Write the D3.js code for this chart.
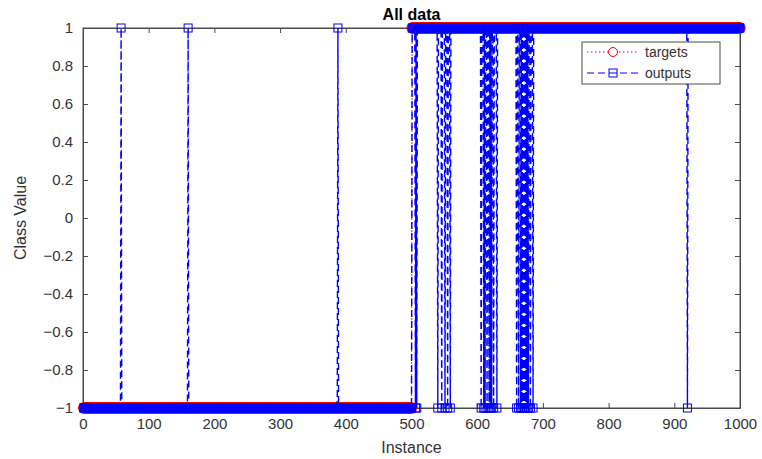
<!DOCTYPE html>
<html>
<head>
<meta charset="utf-8">
<script src="https://cdn.jsdelivr.net/npm/d3@7"></script>
<style>
  body { margin: 0; background: #fff; }
  svg text { font-family: "Liberation Sans", Arial, sans-serif; }
</style>
</head>
<body>
<div id="chart"></div>
<script>
// class of each target run (instance ranges)
const targetRuns = [
    { from: 1, to: 500, value: -1 },
    { from: 501, to: 1000, value: 1 }
];
// instances where the network output disagrees with the target
const misclassified = [58, 160, 388, 506, 508,
    540, 546, 551, 555, 559,
    606, 610, 612, 615, 618, 620, 622, 625, 630,
    660, 663, 666, 668, 670, 672, 674, 676, 678, 681, 685,
    920];
const xTicks = [0, 100, 200, 300, 400, 500, 600, 700, 800, 900, 1000];
const yTicks = [-1, -0.8, -0.6, -0.4, -0.2, 0, 0.2, 0.4, 0.6, 0.8, 1];
const legendItems = ["targets", "outputs"];

var targets = [];
targetRuns.forEach(r => {
    for (let i = r.from; i <= r.to; i++) targets.push({ i: i, v: r.value });
});
var wrong = new Set(misclassified);
var outputs = targets.map(d => ({ i: d.i, v: wrong.has(d.i) ? -d.v : d.v }));

var width = 762, height = 459;
var margin = { left: 83, right: 22, top: 28, bottom: 51 };

var svg = d3.select("#chart").append("svg")
    .attr("width", width)
    .attr("height", height);

var x = d3.scaleLinear().domain([0, 1000]).range([margin.left, width - margin.right]);
var y = d3.scaleLinear().domain([-1, 1]).range([height - margin.bottom, margin.top]);

var axisColor = "#333";
var tickColor = "#4a4a4a";

// box
svg.append("rect")
    .attr("x", x(0)).attr("y", y(1))
    .attr("width", x(1000) - x(0)).attr("height", y(-1) - y(1))
    .attr("fill", "none").attr("stroke", tickColor).attr("stroke-width", 1);

// axes with inward ticks
var xAxis = svg.append("g")
    .attr("transform", "translate(0," + y(-1) + ")")
    .call(d3.axisBottom(x).tickValues(xTicks).tickSizeInner(-5).tickSizeOuter(0).tickPadding(10).tickFormat(d3.format("d")));
var xAxisTop = svg.append("g")
    .attr("transform", "translate(0," + y(1) + ")")
    .call(d3.axisTop(x).tickValues(xTicks).tickSizeInner(-5).tickSizeOuter(0).tickFormat(""));
var yAxis = svg.append("g")
    .attr("transform", "translate(" + x(0) + ",0)")
    .call(d3.axisLeft(y).tickValues(yTicks).tickSizeInner(-5).tickSizeOuter(0).tickPadding(10).tickFormat(d3.format("")));
var yAxisRight = svg.append("g")
    .attr("transform", "translate(" + x(1000) + ",0)")
    .call(d3.axisRight(y).tickValues(yTicks).tickSizeInner(-5).tickSizeOuter(0).tickFormat(""));

[xAxis, xAxisTop, yAxis, yAxisRight].forEach(a => {
    a.selectAll("path").attr("stroke", tickColor);
    a.selectAll("line").attr("stroke", tickColor);
    a.selectAll("text").attr("fill", axisColor).style("font-size", "15px");
});

// targets: red dotted line with circles
var line = d3.line().x(d => x(d.i)).y(d => y(d.v));

svg.append("path")
    .datum(targets)
    .attr("d", line)
    .attr("fill", "none")
    .attr("stroke", "#ff0000")
    .attr("stroke-width", 1.2)
    .attr("stroke-dasharray", "1.5,2.5");

svg.append("g").selectAll("circle")
    .data(targets)
    .enter().append("circle")
    .attr("cx", d => x(d.i))
    .attr("cy", d => y(d.v))
    .attr("r", 5.2)
    .attr("fill", "none")
    .attr("stroke", "#ff0000")
    .attr("stroke-width", 1);

// outputs: blue dashed line with squares
svg.append("path")
    .datum(outputs)
    .attr("d", line)
    .attr("fill", "none")
    .attr("stroke", "#0000ff")
    .attr("stroke-width", 1.4)
    .attr("stroke-dasharray", "7,4");

var sq = 8;
svg.append("g").selectAll("rect")
    .data(outputs)
    .enter().append("rect")
    .attr("x", d => x(d.i) - sq / 2)
    .attr("y", d => y(d.v) - sq / 2)
    .attr("width", sq)
    .attr("height", sq)
    .attr("fill", "none")
    .attr("stroke", "#0000ff")
    .attr("stroke-width", 1);

// title and labels
svg.append("text")
    .attr("x", (x(0) + x(1000)) / 2)
    .attr("y", 20)
    .attr("text-anchor", "middle")
    .attr("fill", "#000")
    .style("font-size", "16px")
    .style("font-weight", "bold")
    .text("All data");

svg.append("text")
    .attr("x", (x(0) + x(1000)) / 2)
    .attr("y", 453)
    .attr("text-anchor", "middle")
    .attr("fill", axisColor)
    .style("font-size", "16px")
    .text("Instance");

svg.append("text")
    .attr("transform", "translate(26," + y(0) + ") rotate(-90)")
    .attr("text-anchor", "middle")
    .attr("fill", axisColor)
    .style("font-size", "16px")
    .text("Class Value");

// legend
var lg = svg.append("g").attr("transform", "translate(582,42)");
lg.append("rect")
    .attr("width", 138).attr("height", 42)
    .attr("fill", "#fff").attr("stroke", tickColor).attr("stroke-width", 1);

var styles = [
    { color: "#ff0000", dash: "1.5,2.5" },
    { color: "#0000ff", dash: "7,4" }
];
legendItems.forEach((name, k) => {
    var cy = 10 + k * 21;
    lg.append("line")
        .attr("x1", 5).attr("x2", 57).attr("y1", cy).attr("y2", cy)
        .attr("stroke", styles[k].color).attr("stroke-width", 1.2)
        .attr("stroke-dasharray", styles[k].dash);
    if (k === 0) {
        lg.append("circle").attr("cx", 31).attr("cy", cy).attr("r", 4.5)
            .attr("fill", "#fff").attr("stroke", styles[k].color);
    } else {
        lg.append("rect").attr("x", 31 - sq / 2).attr("y", cy - sq / 2)
            .attr("width", sq).attr("height", sq)
            .attr("fill", "#fff").attr("stroke", styles[k].color);
        lg.append("line").attr("x1", 31 - sq / 2).attr("x2", 31 + sq / 2)
            .attr("y1", cy).attr("y2", cy).attr("stroke", styles[k].color);
    }
    lg.append("text")
        .attr("x", 63).attr("y", cy + 5)
        .attr("fill", axisColor)
        .style("font-size", "14px")
        .text(name);
});
</script>
</body>
</html>
